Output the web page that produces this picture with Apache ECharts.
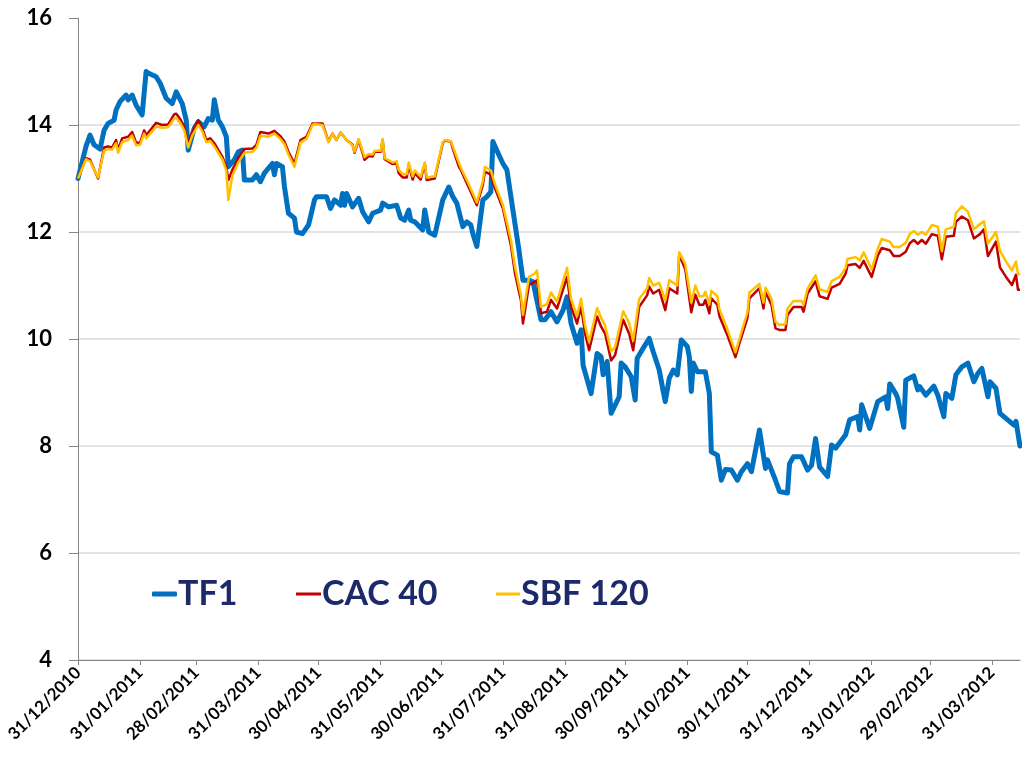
<!DOCTYPE html>
<html>
<head>
<meta charset="utf-8">
<script src="https://cdn.jsdelivr.net/npm/echarts@6/dist/echarts.min.js"></script>
<style>
  html, body { margin: 0; padding: 0; background: #fff; }
  #chart { width: 1022px; height: 765px; }
</style>
</head>
<body>
<div id="chart"></div>
<script>
// TF1 cours de bourse
var tf1Dates = [
  '2010-12-31','2011-01-04','2011-01-06','2011-01-08','2011-01-11','2011-01-13','2011-01-15','2011-01-18','2011-01-19','2011-01-21',
  '2011-01-24','2011-01-25','2011-01-27','2011-01-29','2011-02-01','2011-02-03','2011-02-04','2011-02-08','2011-02-10','2011-02-13',
  '2011-02-16','2011-02-18','2011-02-21','2011-02-23','2011-02-24','2011-02-27','2011-03-01','2011-03-04','2011-03-06','2011-03-08',
  '2011-03-09','2011-03-11','2011-03-13','2011-03-15','2011-03-16','2011-03-19','2011-03-21','2011-03-23','2011-03-24','2011-03-28',
  '2011-03-30','2011-04-01','2011-04-03','2011-04-07','2011-04-08','2011-04-09','2011-04-12','2011-04-13','2011-04-15','2011-04-18',
  '2011-04-19','2011-04-22','2011-04-25','2011-04-28','2011-04-29','2011-05-04','2011-05-06','2011-05-08','2011-05-11','2011-05-12',
  '2011-05-13','2011-05-14','2011-05-17','2011-05-20','2011-05-22','2011-05-25','2011-05-27','2011-05-31','2011-06-01','2011-06-04',
  '2011-06-08','2011-06-10','2011-06-12','2011-06-14','2011-06-15','2011-06-17','2011-06-21','2011-06-22','2011-06-24','2011-06-27',
  '2011-07-01','2011-07-04','2011-07-06','2011-07-08','2011-07-11','2011-07-13','2011-07-15','2011-07-16','2011-07-18','2011-07-21',
  '2011-07-23','2011-07-25','2011-07-26','2011-07-29','2011-07-31','2011-08-02','2011-08-05','2011-08-08','2011-08-10','2011-08-13',
  '2011-08-15','2011-08-19','2011-08-21','2011-08-24','2011-08-27','2011-08-30','2011-09-01','2011-09-03','2011-09-06','2011-09-08',
  '2011-09-09','2011-09-13','2011-09-16','2011-09-18','2011-09-19','2011-09-21','2011-09-23','2011-09-27','2011-09-28','2011-09-30',
  '2011-10-03','2011-10-05','2011-10-06','2011-10-10','2011-10-12','2011-10-14','2011-10-17','2011-10-19','2011-10-20','2011-10-22',
  '2011-10-24','2011-10-26','2011-10-28','2011-10-31','2011-11-01','2011-11-02','2011-11-03','2011-11-05','2011-11-09','2011-11-11',
  '2011-11-12','2011-11-15','2011-11-17','2011-11-19','2011-11-22','2011-11-25','2011-11-27','2011-11-30','2011-12-02','2011-12-06',
  '2011-12-09','2011-12-10','2011-12-14','2011-12-16','2011-12-20','2011-12-21','2011-12-23','2011-12-27','2011-12-30','2012-01-01',
  '2012-01-03','2012-01-05','2012-01-09','2012-01-11','2012-01-13','2012-01-18','2012-01-20','2012-01-24','2012-01-25','2012-01-26',
  '2012-01-30','2012-02-03','2012-02-07','2012-02-08','2012-02-09','2012-02-12','2012-02-13','2012-02-16','2012-02-17','2012-02-21',
  '2012-02-23','2012-02-24','2012-02-27','2012-03-02','2012-03-04','2012-03-07','2012-03-08','2012-03-11','2012-03-13','2012-03-16',
  '2012-03-19','2012-03-22','2012-03-24','2012-03-26','2012-03-29','2012-03-30','2012-04-02','2012-04-04','2012-04-11','2012-04-12',
  '2012-04-14'
];
var tf1Values = [
  13.0, 13.6, 13.81, 13.63, 13.55, 13.9, 14.03, 14.09, 14.28, 14.44,
  14.56, 14.47, 14.56, 14.37, 14.19, 15.0, 14.97, 14.9, 14.78, 14.5,
  14.4, 14.62, 14.4, 14.09, 13.53, 13.94, 14.06, 13.97, 14.12, 14.09,
  14.47, 14.09, 13.97, 13.78, 13.22, 13.35, 13.5, 13.53, 12.97, 12.97,
  13.07, 12.94, 13.1, 13.28, 13.07, 13.28, 13.22, 12.85, 12.35, 12.26,
  12.0, 11.97, 12.13, 12.6, 12.66, 12.66, 12.44, 12.6, 12.5, 12.72,
  12.5, 12.72, 12.47, 12.63, 12.38, 12.19, 12.35, 12.41, 12.54, 12.47,
  12.5, 12.26, 12.22, 12.41, 12.22, 12.19, 12.04, 12.41, 12.0, 11.94,
  12.6, 12.84, 12.66, 12.54, 12.1, 12.19, 12.13, 11.97, 11.73, 12.6,
  12.66, 12.75, 13.69, 13.44, 13.28, 13.16, 12.41, 11.66, 11.1, 11.1,
  11.07, 10.36, 10.36, 10.51, 10.32, 10.54, 10.79, 10.29, 9.92, 10.17,
  9.51, 8.98, 9.73, 9.67, 9.33, 9.58, 8.61, 8.92, 9.55, 9.48,
  9.3, 8.86, 9.64, 9.89, 10.01, 9.76, 9.42, 9.02, 8.83, 9.27,
  9.42, 9.33, 9.98, 9.86, 9.67, 9.02, 9.55, 9.39, 9.39, 8.98,
  7.89, 7.83, 7.36, 7.56, 7.55, 7.36, 7.52, 7.67, 7.52, 8.3,
  7.58, 7.74, 7.36, 7.15, 7.12, 7.67, 7.8, 7.8, 7.55, 7.64,
  8.14, 7.61, 7.43, 8.02, 7.96, 8.21, 8.49, 8.55, 8.3, 8.77,
  8.33, 8.83, 8.92, 8.7, 9.16, 8.98, 8.89, 8.35, 9.23, 9.31,
  9.05, 9.11, 8.95, 9.12, 8.95, 8.55, 8.98, 8.89, 9.33, 9.48,
  9.55, 9.2, 9.36, 9.45, 8.92, 9.2, 9.08, 8.61, 8.39, 8.46,
  8.0
];

// CAC 40 et SBF 120 (rebasés)
var indexDates = [
  '2010-12-31','2011-01-04','2011-01-06','2011-01-10','2011-01-13','2011-01-15','2011-01-17','2011-01-19','2011-01-20','2011-01-22',
  '2011-01-25','2011-01-27','2011-01-29','2011-01-31','2011-02-02','2011-02-03','2011-02-08','2011-02-11','2011-02-14','2011-02-17',
  '2011-02-18','2011-02-20','2011-02-22','2011-02-24','2011-02-26','2011-03-01','2011-03-03','2011-03-05','2011-03-07','2011-03-09',
  '2011-03-13','2011-03-15','2011-03-16','2011-03-18','2011-03-21','2011-03-24','2011-03-28','2011-03-30','2011-04-01','2011-04-05',
  '2011-04-08','2011-04-11','2011-04-13','2011-04-15','2011-04-18','2011-04-21','2011-04-24','2011-04-27','2011-04-28','2011-05-02',
  '2011-05-05','2011-05-07','2011-05-09','2011-05-11','2011-05-14','2011-05-17','2011-05-18','2011-05-20','2011-05-23','2011-05-25',
  '2011-05-27','2011-05-28','2011-05-31','2011-06-01','2011-06-02','2011-06-06','2011-06-08','2011-06-09','2011-06-11','2011-06-13',
  '2011-06-14','2011-06-16','2011-06-17','2011-06-20','2011-06-22','2011-06-23','2011-06-27','2011-07-01','2011-07-02','2011-07-05',
  '2011-07-06','2011-07-09','2011-07-10','2011-07-13','2011-07-18','2011-07-21','2011-07-22','2011-07-25','2011-07-27','2011-07-31',
  '2011-08-04','2011-08-06','2011-08-09','2011-08-10','2011-08-13','2011-08-16','2011-08-17','2011-08-19','2011-08-22','2011-08-24',
  '2011-08-27','2011-09-01','2011-09-03','2011-09-06','2011-09-08','2011-09-10','2011-09-12','2011-09-16','2011-09-18','2011-09-20',
  '2011-09-23','2011-09-25','2011-09-29','2011-10-02','2011-10-04','2011-10-07','2011-10-11','2011-10-12','2011-10-14','2011-10-17',
  '2011-10-20','2011-10-22','2011-10-26','2011-10-27','2011-10-30','2011-11-02','2011-11-04','2011-11-06','2011-11-08','2011-11-09',
  '2011-11-11','2011-11-12','2011-11-15','2011-11-16','2011-11-20','2011-11-24','2011-11-26','2011-11-30','2011-12-01','2011-12-06',
  '2011-12-08','2011-12-09','2011-12-12','2011-12-14','2011-12-16','2011-12-19','2011-12-20','2011-12-23','2011-12-27','2011-12-28',
  '2011-12-30','2012-01-03','2012-01-05','2012-01-09','2012-01-11','2012-01-15','2012-01-18','2012-01-19','2012-01-23','2012-01-25',
  '2012-01-27','2012-01-31','2012-02-03','2012-02-05','2012-02-09','2012-02-11','2012-02-14','2012-02-17','2012-02-19','2012-02-21',
  '2012-02-23','2012-02-25','2012-02-27','2012-03-01','2012-03-04','2012-03-06','2012-03-08','2012-03-12','2012-03-13','2012-03-16',
  '2012-03-19','2012-03-22','2012-03-25','2012-03-27','2012-03-29','2012-04-02','2012-04-04','2012-04-07','2012-04-10','2012-04-12',
  '2012-04-13','2012-04-14'
];
var cacValues = [
  13.0, 13.38, 13.35, 13.0, 13.58, 13.6, 13.58, 13.72, 13.53, 13.75,
  13.78, 13.87, 13.67, 13.67, 13.9, 13.81, 14.04, 14.0, 14.01, 14.2,
  14.21, 14.11, 13.97, 13.66, 13.87, 14.09, 13.94, 13.72, 13.75, 13.66,
  13.41, 13.22, 12.97, 13.16, 13.38, 13.55, 13.56, 13.63, 13.87, 13.84,
  13.89, 13.79, 13.69, 13.5, 13.28, 13.72, 13.78, 14.03, 14.03, 14.03,
  13.69, 13.84, 13.72, 13.86, 13.72, 13.63, 13.48, 13.72, 13.35, 13.42,
  13.41, 13.5, 13.5, 13.72, 13.36, 13.27, 13.28, 13.1, 13.02, 13.02,
  13.25, 12.98, 13.1, 12.98, 13.28, 12.97, 13.0, 13.66, 13.71, 13.69,
  13.56, 13.22, 13.16, 12.91, 12.5, 12.88, 13.13, 13.07, 12.82, 12.44,
  11.75, 11.23, 10.72, 10.29, 11.01, 11.07, 11.1, 10.48, 10.51, 10.73,
  10.57, 11.16, 10.6, 10.29, 10.6, 10.1, 9.79, 10.42, 10.23, 10.1,
  9.6, 9.7, 10.36, 10.1, 9.79, 10.6, 10.82, 10.98, 10.85, 10.92,
  10.54, 10.95, 10.85, 11.58, 11.3, 10.5, 10.83, 10.64, 10.64, 10.73,
  10.48, 10.76, 10.64, 10.43, 10.07, 9.66, 9.92, 10.39, 10.76, 10.95,
  10.57, 10.88, 10.64, 10.2, 10.17, 10.17, 10.45, 10.6, 10.6, 10.51,
  10.85, 11.08, 10.8, 10.75, 10.96, 11.03, 11.22, 11.38, 11.4, 11.33,
  11.46, 11.16, 11.56, 11.7, 11.66, 11.55, 11.55, 11.63, 11.79, 11.85,
  11.78, 11.85, 11.78, 11.96, 11.93, 11.49, 11.91, 11.93, 12.19, 12.29,
  12.22, 11.88, 11.96, 12.05, 11.55, 11.82, 11.34, 11.16, 11.01, 11.2,
  10.92, 10.92
];
var sbfValues = [
  13.0, 13.36, 13.32, 13.02, 13.52, 13.55, 13.54, 13.66, 13.48, 13.68,
  13.72, 13.8, 13.62, 13.63, 13.84, 13.75, 13.97, 13.95, 13.96, 14.12,
  14.13, 14.04, 13.9, 13.58, 13.8, 14.0, 13.88, 13.68, 13.7, 13.6,
  13.36, 13.15, 12.6, 13.05, 13.3, 13.48, 13.5, 13.57, 13.8, 13.78,
  13.84, 13.74, 13.64, 13.45, 13.22, 13.67, 13.74, 14.0, 14.02, 14.0,
  13.68, 13.84, 13.72, 13.86, 13.72, 13.62, 13.5, 13.74, 13.4, 13.46,
  13.45, 13.52, 13.52, 13.74, 13.38, 13.3, 13.32, 13.16, 13.08, 13.08,
  13.3, 13.04, 13.15, 13.03, 13.3, 13.02, 13.04, 13.68, 13.72, 13.7,
  13.6, 13.3, 13.2, 12.97, 12.55, 12.95, 13.22, 13.15, 12.9, 12.5,
  11.85, 11.35, 10.82, 10.45, 11.16, 11.23, 11.28, 10.6, 10.65, 10.87,
  10.7, 11.33, 10.75, 10.43, 10.75, 10.25, 9.95, 10.58, 10.4, 10.25,
  9.77, 9.85, 10.52, 10.3, 9.97, 10.75, 10.95, 11.14, 11.0, 11.05,
  10.72, 11.1, 11.0, 11.62, 11.4, 10.68, 11.0, 10.8, 10.8, 10.88,
  10.65, 10.9, 10.8, 10.56, 10.18, 9.75, 10.0, 10.5, 10.87, 11.03,
  10.68, 10.96, 10.75, 10.32, 10.26, 10.28, 10.57, 10.71, 10.71, 10.64,
  10.94, 11.19, 10.93, 10.88, 11.08, 11.16, 11.33, 11.5, 11.53, 11.47,
  11.62, 11.3, 11.68, 11.87, 11.82, 11.72, 11.72, 11.8, 11.96, 12.02,
  11.95, 12.0, 11.95, 12.13, 12.1, 11.64, 12.05, 12.1, 12.35, 12.48,
  12.38, 12.05, 12.15, 12.2, 11.78, 12.0, 11.65, 11.45, 11.28, 11.45,
  11.22, 11.2
];

// graduations de l'axe des dates (fins de mois)
var tickDates = [
  '2010-12-31','2011-01-31','2011-02-28','2011-03-31','2011-04-30','2011-05-31','2011-06-30','2011-07-31',
  '2011-08-31','2011-09-30','2011-10-31','2011-11-30','2011-12-31','2012-01-31','2012-02-29','2012-03-31'
];
var startDate = '2010-12-31';
var endDate = '2012-04-14';

// jours depuis le 31/12/2010
function dayNum(s) {
  var p = s.split('-');
  return (Date.UTC(+p[0], +p[1] - 1, +p[2]) - Date.UTC(2010, 11, 31)) / 86400000;
}
function dayLabel(d) {
  var dt = new Date(Date.UTC(2010, 11, 31) + Math.round(d) * 86400000);
  var dd = ('0' + dt.getUTCDate()).slice(-2);
  var mm = ('0' + (dt.getUTCMonth() + 1)).slice(-2);
  return dd + '/' + mm + '/' + dt.getUTCFullYear();
}
function pairs(dates, values) {
  return dates.map(function (d, i) { return [dayNum(d), values[i]]; });
}

var tickDays = tickDates.map(dayNum);

var myChart = echarts.init(document.getElementById('chart'));

var legendText = {
  fontFamily: 'Lato',
  fontWeight: 'bold',
  fontSize: 34,
  color: '#1c2a6a',
  padding: [0, 0, 0, -4]
};

var option = {
  animation: false,
  backgroundColor: '#fff',
  grid: { left: 78, right: 2, top: 18, bottom: 105, containLabel: false },
  // une légende par série pour placer chaque entrée
  legend: [
    { data: ['TF1'], left: 152, top: 577, padding: 0, icon: 'roundRect', itemWidth: 25, itemHeight: 5, textStyle: legendText },
    { data: ['CAC 40'], left: 296, top: 577, padding: 0, icon: 'rect', itemWidth: 25, itemHeight: 3, textStyle: legendText },
    { data: ['SBF 120'], left: 496, top: 577, padding: 0, icon: 'rect', itemWidth: 24, itemHeight: 3, textStyle: legendText }
  ],
  xAxis: {
    type: 'value',
    min: dayNum(startDate),
    max: dayNum(endDate),
    axisLine: { show: true, lineStyle: { color: '#868686', width: 1 } },
    axisTick: { show: true, length: 5, customValues: tickDays, lineStyle: { color: '#868686' } },
    axisLabel: {
      customValues: tickDays,
      rotate: 45,
      margin: 10,
      fontFamily: 'Lato',
      fontWeight: 'bold',
      fontSize: 17,
      color: '#000',
      formatter: function (v) { return dayLabel(v); }
    },
    splitLine: { show: false }
  },
  yAxis: {
    type: 'value',
    min: 4,
    max: 16,
    interval: 2,
    axisLine: { show: true, lineStyle: { color: '#868686', width: 1 } },
    axisTick: { show: true, length: 9, lineStyle: { color: '#868686' } },
    axisLabel: {
      margin: 26,
      fontFamily: 'Lato',
      fontWeight: 'bold',
      fontSize: 22,
      color: '#000'
    },
    splitLine: { show: true, showMaxLine: false, lineStyle: { color: '#e3e3e3', width: 2 } }
  },
  series: [
    {
      name: 'TF1',
      type: 'line',
      symbol: 'none',
      data: pairs(tf1Dates, tf1Values),
      lineStyle: { color: '#0070c0', width: 5, join: 'round', cap: 'round' },
      itemStyle: { color: '#0070c0' }
    },
    {
      name: 'CAC 40',
      type: 'line',
      symbol: 'none',
      data: pairs(indexDates, cacValues),
      lineStyle: { color: '#c00000', width: 2.5, join: 'round' },
      itemStyle: { color: '#c00000' }
    },
    {
      name: 'SBF 120',
      type: 'line',
      symbol: 'none',
      data: pairs(indexDates, sbfValues),
      lineStyle: { color: '#ffc000', width: 2.5, join: 'round' },
      itemStyle: { color: '#ffc000' }
    }
  ]
};

myChart.setOption(option);
</script>
</body>
</html>
